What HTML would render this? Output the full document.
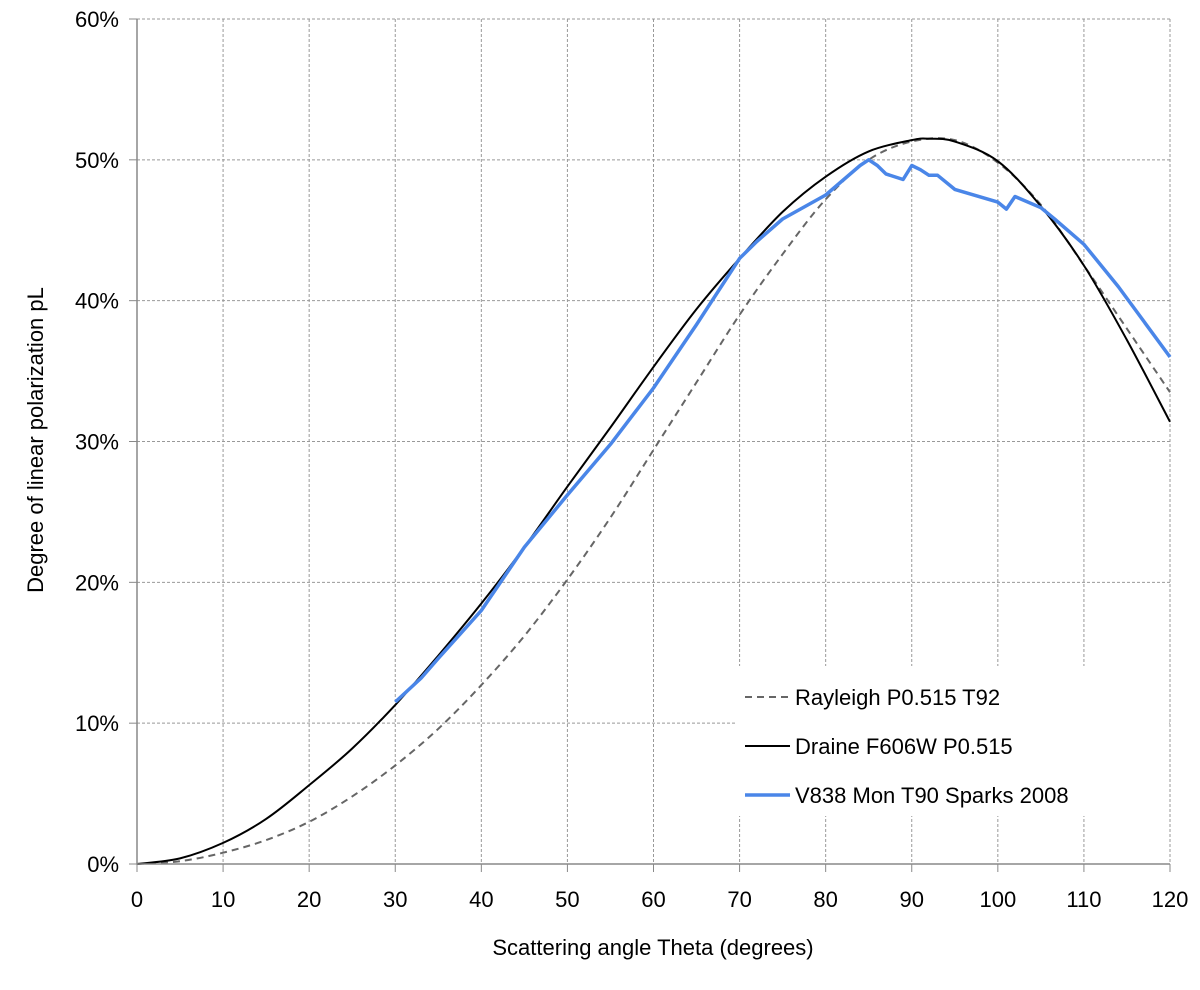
<!DOCTYPE html>
<html><head><meta charset="utf-8"><style>
body{margin:0;background:#fff}
svg text{font-family:"Liberation Sans",Arial,sans-serif;fill:#000}
</style></head><body>
<svg id="chart" width="1200" height="985" xmlns="http://www.w3.org/2000/svg">
<g id="grid"></g>
<g id="series"></g>
<g id="axes"></g>
<g>
<rect x="737" y="666" width="432" height="150" fill="#fff"/>
<g><line x1="745" y1="697" x2="790" y2="697" stroke="#666" stroke-width="2" stroke-dasharray="7,5"/><text x="795" y="705" font-size="22">Rayleigh P0.515 T92</text></g>
<g><line x1="745" y1="746" x2="790" y2="746" stroke="#000" stroke-width="2"/><text x="795" y="754" font-size="22">Draine F606W P0.515</text></g>
<g><line x1="745" y1="795" x2="790" y2="795" stroke="#4a86e8" stroke-width="3.5"/><text x="795" y="803" font-size="22">V838 Mon T90 Sparks 2008</text></g>
</g>
<text x="653" y="955" font-size="22" text-anchor="middle">Scattering angle Theta (degrees)</text>
<text transform="translate(43,440) rotate(-90)" font-size="22" text-anchor="middle">Degree of linear polarization pL</text>
</svg>
<script>
const xTicks=[0,10,20,30,40,50,60,70,80,90,100,110,120];
const yTicks=[0,10,20,30,40,50,60];
const rayX=[0,5,10,15,20,25,30,35,40,45,50,55,60,65,70,75,80,85,90,95,100,105,110,115,120];
const rayY=[0,0.2,0.8,1.7,3.0,4.8,7.0,9.6,12.7,16.2,20.2,24.6,29.4,34.2,39.0,43.3,47.2,50.0,51.3,51.4,49.8,46.8,42.5,38.0,33.5];
const draX=[0,5,10,15,20,25,30,35,40,45,50,55,60,65,70,75,80,85,90,92,95,100,105,110,115,120];
const draY=[0,0.4,1.5,3.2,5.6,8.2,11.3,14.8,18.5,22.5,26.8,31.0,35.3,39.4,43.0,46.3,48.8,50.6,51.4,51.5,51.3,49.9,46.7,42.5,37.2,31.4];
const v838X=[30,33,35,40,45,50,55,60,65,70,72,75,80,84,85,86,87,89,90,91,92,93,95,100,101,102,105,106.6,110,114,120];
const v838Y=[11.5,13.2,14.6,18.0,22.5,26.2,29.8,33.8,38.3,43.0,44.2,45.8,47.5,49.6,50.0,49.6,49.0,48.6,49.6,49.3,48.9,48.9,47.9,47.0,46.5,47.4,46.6,45.8,44.0,41.0,36.0];
const X0=137,X1=1170,Y0=864,Y1=19;
const sx=v=>X0+(v-0)/120*(X1-X0);
const sy=v=>Y0-(v-0)/60*(Y0-Y1);
const NS="http://www.w3.org/2000/svg";
function mk(t,a,p){const e=document.createElementNS(NS,t);for(const k in a)e.setAttribute(k,a[k]);p.appendChild(e);return e;}
const grid=document.getElementById('grid'),axes=document.getElementById('axes'),ser=document.getElementById('series');
xTicks.forEach(t=>{
 if(t>0){const g=mk('line',{x1:sx(t),x2:sx(t),y1:Y1,y2:Y0,stroke:'#999','stroke-dasharray':'3,2'},grid);
 
 }
 const tk=mk('line',{x1:sx(t),x2:sx(t),y1:Y0,y2:Y0+8,stroke:'#888'},axes);
 
 
 const l=mk('text',{x:sx(t),y:Y0+43,'font-size':22,'text-anchor':'middle'},axes);l.textContent=t;
 
 
});
yTicks.forEach(t=>{
 if(t>0){const g=mk('line',{x1:X0,x2:X1,y1:sy(t),y2:sy(t),stroke:'#999','stroke-dasharray':'3,2'},grid);
 
 }
 const tk=mk('line',{x1:X0-8,x2:X0,y1:sy(t),y2:sy(t),stroke:'#888'},axes);
 
 
 const l=mk('text',{x:X0-18,y:sy(t)+8,'font-size':22,'text-anchor':'end'},axes);l.textContent=t+'%';
 
 
});
const ax=mk('path',{d:`M${X0} ${Y1}V${Y0}H${X1}`,fill:'none',stroke:'#888','stroke-width':1.5},axes);


function line(xs,ys,attrs,name,smooth){
 const P=xs.map((x,i)=>[sx(x),sy(ys[i])]);
 let d='M'+P[0][0].toFixed(1)+' '+P[0][1].toFixed(1);
 for(let i=1;i<P.length;i++){
  if(smooth){
   const p0=P[Math.max(i-2,0)],p1=P[i-1],p2=P[i],p3=P[Math.min(i+1,P.length-1)];
   const c1=[p1[0]+(p2[0]-p0[0])/6,p1[1]+(p2[1]-p0[1])/6],c2=[p2[0]-(p3[0]-p1[0])/6,p2[1]-(p3[1]-p1[1])/6];
   d+='C'+c1.map(v=>v.toFixed(1)).join(' ')+' '+c2.map(v=>v.toFixed(1)).join(' ')+' '+p2[0].toFixed(1)+' '+p2[1].toFixed(1);
  } else d+='L'+P[i][0].toFixed(1)+' '+P[i][1].toFixed(1);
 }
 const p=mk('path',Object.assign({d:d,fill:'none','stroke-linejoin':'round'},attrs),ser);
 
 
}
line(rayX,rayY,{stroke:'#666','stroke-width':2,'stroke-dasharray':'7,5'},'rayleigh-line',true);
line(draX,draY,{stroke:'#000','stroke-width':2},'draine-line',true);
line(v838X,v838Y,{stroke:'#4a86e8','stroke-width':3.5},'v838-line',false);
</script>
</body></html>
